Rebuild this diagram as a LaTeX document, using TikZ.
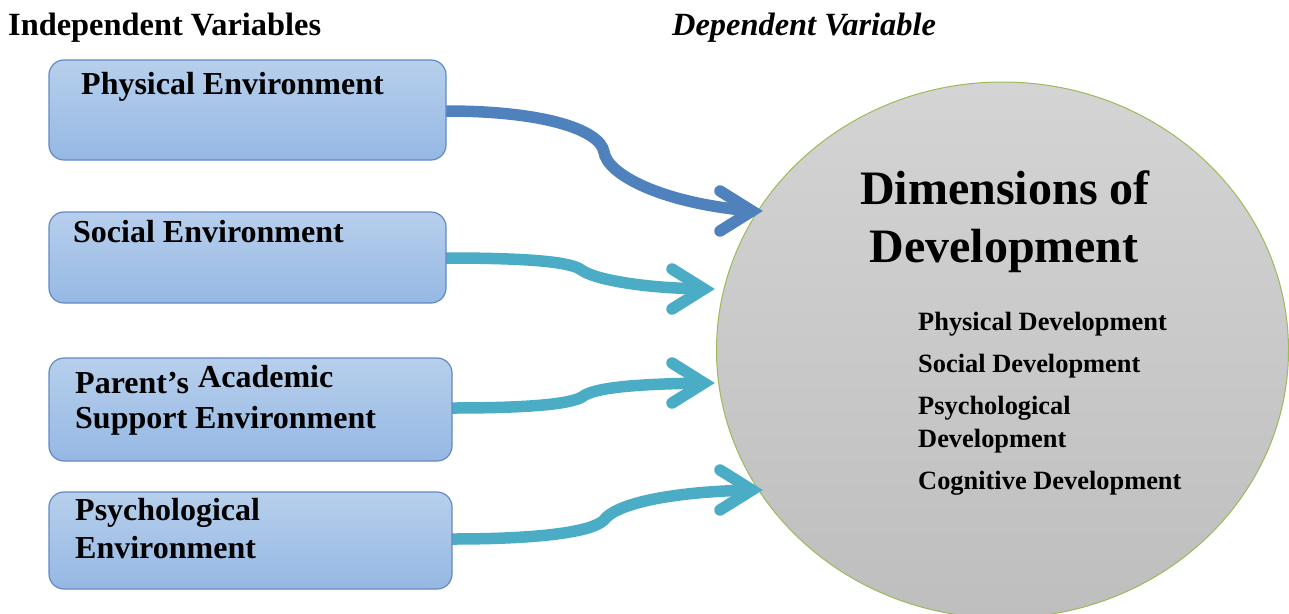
\documentclass[tikz,border=0pt]{standalone}
\usepackage{fontspec}
\setmainfont{Liberation Serif}
\usetikzlibrary{shapes.geometric}
\definecolor{boxtop}{RGB}{183,207,236}
\definecolor{boxbot}{RGB}{149,184,227}
\definecolor{boxline}{RGB}{98,137,196}
\definecolor{darkarrow}{RGB}{79,129,189}
\definecolor{aquaarrow}{RGB}{75,172,198}
\definecolor{circtop}{RGB}{212,212,212}
\definecolor{circbot}{RGB}{190,190,190}
\definecolor{circline}{RGB}{155,187,89}
\tikzset{
  envbox/.style={draw=boxline, line width=1.2pt, rounded corners=15pt,
    top color=boxtop, bottom color=boxbot, inner sep=0pt},
  boxtext/.style={anchor=base west, inner sep=0pt, font=\fontsize{32}{35}\selectfont\bfseries},
  headtext/.style={anchor=base west, inner sep=0pt, font=\fontsize{32.4}{35}\selectfont\bfseries},
  bigtext/.style={anchor=base, inner sep=0pt, font=\fontsize{48}{52}\selectfont\bfseries},
  listtext/.style={anchor=base west, inner sep=0pt, font=\fontsize{26.4}{29}\selectfont\bfseries},
  shaft/.style={line width=11.5pt, line cap=butt},
  chev/.style={line width=11.5pt, line cap=round, line join=miter, miter limit=10},
}
\begin{document}
\begin{tikzpicture}[x=1pt, y=-1pt]
\useasboundingbox (0,0) rectangle (1289,613);

% headers
\node[headtext] (hind) at (8,35) {Independent Variables};
\node[headtext, font=\fontsize{32.4}{35}\selectfont\bfseries\itshape] (hdep) at (672,35) {Dependent Variable};

% dependent ellipse
\node[ellipse, draw=circline, line width=1pt, top color=circtop, bottom color=circbot,
      minimum width=572pt, minimum height=536pt, inner sep=0pt] (dim) at (1002.5,350) {};

% arrow tips (vertex points)
\coordinate (v1) at (752,211);
\coordinate (v2) at (704,289);
\coordinate (v3) at (704,383);
\coordinate (v4) at (752,490);

% arrows (drawn before boxes)
\draw[shaft, darkarrow] (446,111) .. controls (545,111) and (600,130) .. (604,152)
   .. controls (607,174) and (660,203) .. (v1);
\draw[chev, darkarrow] ([shift={(-32,-20)}]v1) -- (v1) -- ([shift={(-32,20)}]v1);

\draw[shaft, aquaarrow] (446,258) .. controls (530,258) and (568,262) .. (580,269)
   .. controls (592,279) and (640,288) .. (v2);
\draw[chev, aquaarrow] ([shift={(-32,-20)}]v2) -- (v2) -- ([shift={(-32,20)}]v2);

\draw[shaft, aquaarrow] (452,408) .. controls (530,408) and (570,404) .. (582,397)
   .. controls (594,387) and (640,384) .. (v3);
\draw[chev, aquaarrow] ([shift={(-32,-20)}]v3) -- (v3) -- ([shift={(-32,20)}]v3);

\draw[shaft, aquaarrow] (452,539) .. controls (540,539) and (592,532) .. (604,520)
   .. controls (614,506) and (660,492) .. (v4);
\draw[chev, aquaarrow] ([shift={(-32,-20)}]v4) -- (v4) -- ([shift={(-32,20)}]v4);

% boxes
\node[envbox, minimum width=397pt, minimum height=100pt] (b1) at (247.5,110) {};
\node[envbox, minimum width=397pt, minimum height=91pt] (b2) at (247.5,257.5) {};
\node[envbox, minimum width=403pt, minimum height=103pt] (b3) at (250.5,409.5) {};
\node[envbox, minimum width=403pt, minimum height=97pt] (b4) at (250.5,540.5) {};

% box texts
\node[boxtext] (t1) at (81,94) {Physical Environment};
\node[boxtext] (t2) at (73,242) {Social Environment};
\node[boxtext] (t3a) at (75,393) {Parent’s};
\node[boxtext] (t3b) at (198,387) {Academic};
\node[boxtext] (t3c) at (75,428) {Support Environment};
\node[boxtext] (t4a) at (75,520) {Psychological};
\node[boxtext] (t4b) at (75,558) {Environment};

% ellipse texts
\node[bigtext] (d1) at (1005,204) {Dimensions of};
\node[bigtext] (d2) at (1004,262) {Development};
\node[listtext] (l1) at (918,330) {Physical Development};
\node[listtext] (l2) at (918,372) {Social Development};
\node[listtext] (l3) at (918,414) {Psychological};
\node[listtext] (l4) at (918,447) {Development};
\node[listtext] (l5) at (918,489) {Cognitive Development};
\end{tikzpicture}
\end{document}
